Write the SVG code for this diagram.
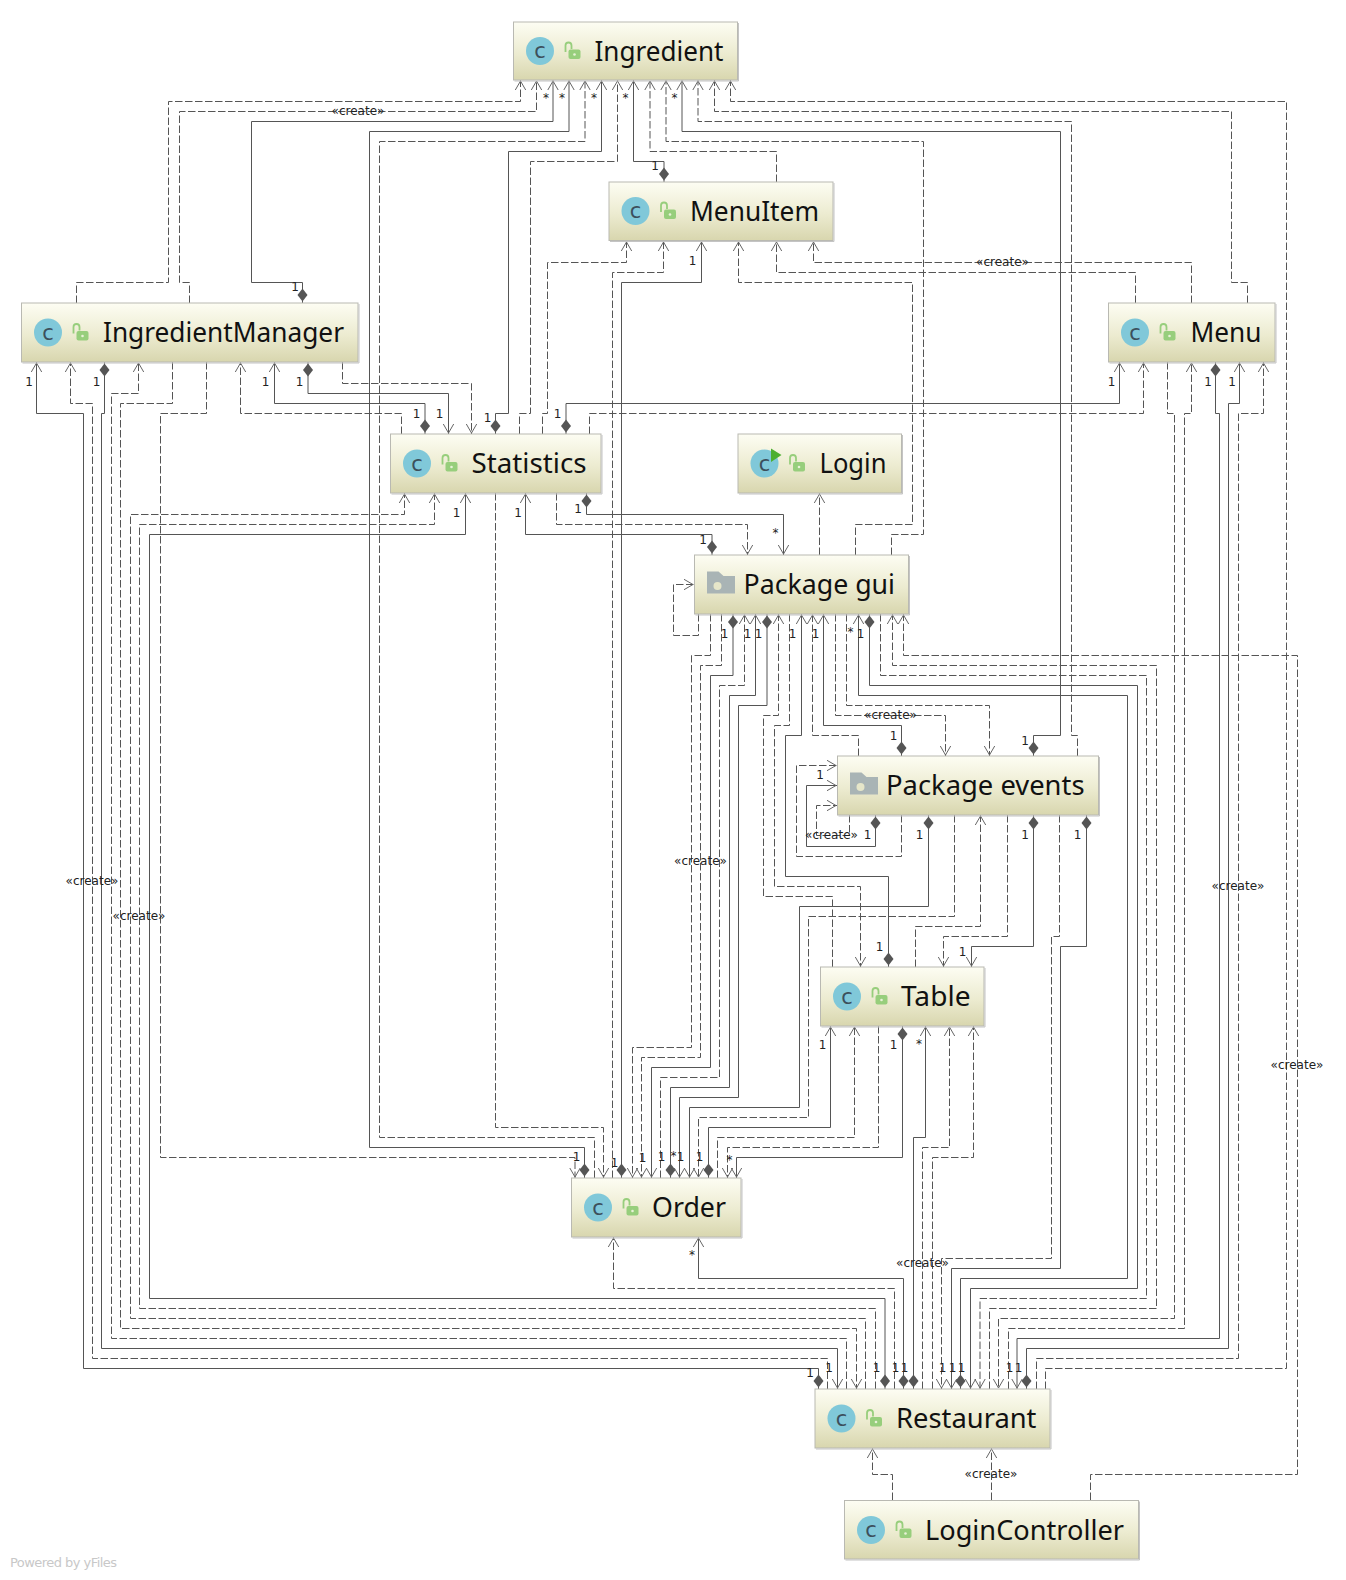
<svg xmlns="http://www.w3.org/2000/svg" xmlns:xlink="http://www.w3.org/1999/xlink" width="1346" height="1580" viewBox="0 0 1346 1580">
<style>
text{font-family:"Noto Sans","DejaVu Sans",sans-serif}
#connectors path{fill:none;stroke:#555;stroke-width:1}
#connectors path.d{stroke-dasharray:7.5 2.5}
#connectors path.ae{marker-end:url(#arrow)}
#connectors path.ds{marker-start:url(#dia)}
.l{font-size:12px;fill:#222;text-anchor:middle;font-family:"DejaVu Sans",sans-serif}
.box{fill:url(#g);stroke:#b9b9b2;stroke-width:1}
.sh{fill:none;stroke:#c4c4c4;stroke-width:1}
.t{font-size:28px;fill:#111}
.c{font-size:21px;fill:#3c4f5c;text-anchor:middle;font-family:"DejaVu Sans",sans-serif}
.pw{font-size:13px;fill:#c8c8c8;font-family:"DejaVu Sans",sans-serif}
</style>
<defs>
<linearGradient id="g" x1="0" y1="0" x2="0" y2="1"><stop offset="0" stop-color="#fdfdf3"/><stop offset=".55" stop-color="#ecebd0"/><stop offset="1" stop-color="#d8d6ae"/></linearGradient>
<marker id="arrow" markerUnits="userSpaceOnUse" markerWidth="14" markerHeight="14" refX="13" refY="7" orient="auto" viewBox="0 0 14 14"><path d="M3 1.800L12 7L3 12.200" fill="none" stroke="#666" stroke-width="1"/></marker>
<marker id="dia" markerUnits="userSpaceOnUse" markerWidth="16" markerHeight="12" refX="-0.500" refY="6" orient="auto" viewBox="0 0 16 12"><path d="M1 6L7.500 1L14 6L7.500 11Z" fill="#555"/></marker>
<g id="lock"><path d="M52 1V-5.500a3 3 0 0 1 6 0V-2" fill="none" stroke="#97ce7c" stroke-width="1.800"/><rect x="55" y="-1.500" width="12" height="9.500" rx="2" fill="#97ce7c"/><circle cx="61" cy="3.500" r="1.300" fill="#e8f2d8"/></g>
<g id="cls"><circle cx="26.500" cy="0" r="14" fill="#80c8d9"/><text class="c" x="26.500" y="7">c</text></g>
<g id="fld"><path d="M12.500-13H24L29-8.500H40.500V9H12.500Z" fill="#a9b4b5"/><circle cx="23" cy="1.500" r="4" fill="#e6e6c9"/></g>
</defs>
<g id="connectors">
<path class="d ae" d="M76.500 303V282.500H168.500V101.500H520.500V80"/>
<path class="d ae" d="M189.500 303V282.500H179.500V111.500H536.500V80"/>
<path class="s ds ae" d="M302.500 303V282.500H251.500V121.500H553V80"/>
<path class="s ds ae" d="M584.500 1178V1147.500H369.500V131.500H569V80"/>
<path class="d ae" d="M594.500 1178V1137.500H379.500V141.500H585V80"/>
<path class="s ds ae" d="M495.500 434V413.500H508.500V151.500H601.500V80"/>
<path class="d ae" d="M519.500 434V413.500H530.500V161.500H617.500V80"/>
<path class="s ds ae" d="M664 182V161.500H633.500V80"/>
<path class="d ae" d="M776.500 182V151.500H650V80"/>
<path class="d ae" d="M891.500 555V534.500H923.500V141.500H666V80"/>
<path class="s ds ae" d="M1033.500 756V735.500H1060.500V131.500H682V80"/>
<path class="d ae" d="M1077.500 756V735.500H1071.500V121.500H698V80"/>
<path class="d ae" d="M1247.500 303V282.500H1231.500V111.500H714.500V80"/>
<path class="d ae" d="M1045.500 1389V1368.500H1286.500V101.500H730.500V80"/>
<path class="d ae" d="M542.500 434V413.500H547.500V262.500H626.500V241"/>
<path class="d ae" d="M612.500 1178V272.500H663.500V241"/>
<path class="s ds ae" d="M621.500 1178V282.500H701.500V241"/>
<path class="d ae" d="M855.500 555V524.500H912.500V282.500H738.500V241"/>
<path class="d ae" d="M1135.500 303V272.500H776.500V241"/>
<path class="d ae" d="M1191.500 303V262.500H813.500V241"/>
<path class="s ds ae" d="M566 434V403.500H1119.500V362"/>
<path class="d ae" d="M589.500 434V413.500H1143.500V362"/>
<path class="d ae" d="M1167.500 362V413.500H1174.500V1318.500H998.500V1389"/>
<path class="d ae" d="M1008.500 1389V1328.500H1184.500V413.500H1191.500V362"/>
<path class="s ds ae" d="M1215.500 362V413.500H1219.500V1338.500H1017V1389"/>
<path class="s ds ae" d="M1026.500 1389V1348.500H1228.500V403.500H1239.500V362"/>
<path class="d ae" d="M1036.500 1389V1358.500H1238.500V413.500H1263.500V362"/>
<path class="s ds ae" d="M960.500 1389V1278.500H1127.500V695.500H858.500V614"/>
<path class="s ds ae" d="M869.500 614V685.500H1137.500V1288.500H970.500V1389"/>
<path class="d ae" d="M880.500 614V675.500H1146.500V1298.500H980V1389"/>
<path class="d ae" d="M989.500 1389V1308.500H1156.500V665.500H892.500V614"/>
<path class="d ae" d="M1090.500 1500V1474.500H1297.500V655.500H903.500V614"/>
<path class="s ds ae" d="M1086.500 815V946.500H1060.500V1268.500H951.500V1389"/>
<path class="d ae" d="M1059.500 815V936.500H1051.500V1258.500H941.500V1389"/>
<path class="s ds ae" d="M913.500 1389V1137.500H925.500V1026"/>
<path class="d ae" d="M922.500 1389V1147.500H949.500V1026"/>
<path class="d ae" d="M932.500 1389V1157.500H973.500V1026"/>
<path class="d ae" d="M894.500 1389V1288.500H613.500V1237"/>
<path class="s ds ae" d="M903.500 1389V1278.500H698.500V1237"/>
<path class="s ds ae" d="M818.500 1389V1368.500H83.500V413.500H36.500V362"/>
<path class="d ae" d="M827.500 1389V1358.500H92.500V403.500H70.500V362"/>
<path class="s ds ae" d="M104.500 362V413.500H101.500V1348.500H837.500V1389"/>
<path class="d ae" d="M846.500 1389V1338.500H111.500V393.500H138.500V362"/>
<path class="d ae" d="M172.500 362V403.500H120.500V1328.500H856.500V1389"/>
<path class="d ae" d="M865.500 1389V1318.500H130.500V514.500H404.500V493"/>
<path class="d ae" d="M875.500 1389V1308.500H139.500V524.500H434.500V493"/>
<path class="s ds ae" d="M885 1389V1298.500H149.500V534.500H465.500V493"/>
<path class="d ae" d="M206.500 362V413.500H160.500V1157.500H575V1178"/>
<path class="d ae" d="M401.500 434V413.500H240.500V362"/>
<path class="s ds ae" d="M425 434V403.500H274.500V362"/>
<path class="s ds ae" d="M308 362V393.500H448.500V434"/>
<path class="d ae" d="M342.500 362V383.500H471.500V434"/>
<path class="d ae" d="M495.500 493V1127.500H603.500V1178"/>
<path class="s ds ae" d="M712 555V534.500H525.500V493"/>
<path class="d ae" d="M556.500 493V524.500H747.500V555"/>
<path class="s ds ae" d="M586.500 493V514.500H783.500V555"/>
<path class="d ae" d="M819.500 555V493"/>
<path class="d ae" d="M698.500 614V635.500H673.500V584.500H694"/>
<path class="d ae" d="M710.500 614V655.500H691.500V1047.500H632.500V1178"/>
<path class="d ae" d="M721.500 614V665.500H700.500V1057.500H641.500V1178"/>
<path class="s ds ae" d="M733 614V675.500H710.500V1067.500H651.500V1178"/>
<path class="d ae" d="M660.500 1178V1077.500H719.500V685.500H744.500V614"/>
<path class="s ds ae" d="M670.500 1178V1087.500H729.500V695.500H755.500V614"/>
<path class="s ds ae" d="M767 614V705.500H738.500V1097.500H679.500V1178"/>
<path class="d ae" d="M832.500 967V896.500H763.500V715.500H778.500V614"/>
<path class="d ae" d="M789.500 614V725.500H774.500V886.500H860.500V967"/>
<path class="s ds ae" d="M888.500 967V876.500H785.500V735.500H801.500V614"/>
<path class="d ae" d="M858.500 756V735.500H812.500V614"/>
<path class="s ds ae" d="M901.500 756V725.500H823.500V614"/>
<path class="d ae" d="M835.500 614V715.500H945.500V756"/>
<path class="d ae" d="M846.500 614V705.500H989.500V756"/>
<path class="d ae" d="M849.500 815V835.500H816.500V805.500H837"/>
<path class="s ds ae" d="M875.500 815V846.500H806.500V785.500H837"/>
<path class="d ae" d="M901.500 815V856.500H796.500V765.500H837"/>
<path class="s ds ae" d="M928.500 815V906.500H799.500V1107.500H689.500V1178"/>
<path class="d ae" d="M954.500 815V916.500H808.500V1117.500H698.500V1178"/>
<path class="d ae" d="M915.500 967V926.500H980.500V815"/>
<path class="d ae" d="M1007.500 815V936.500H943.500V967"/>
<path class="s ds ae" d="M1033.500 815V946.500H971.500V967"/>
<path class="s ds ae" d="M708.500 1178V1127.500H830.500V1026"/>
<path class="d ae" d="M717.500 1178V1137.500H854.500V1026"/>
<path class="d ae" d="M878.500 1026V1147.500H727.500V1178"/>
<path class="s ds ae" d="M902.500 1026V1157.500H736.500V1178"/>
<path class="d ae" d="M892.500 1500V1474.500H872.500V1448"/>
<path class="d ae" d="M991.500 1500V1448"/>
<g id="labels">
<text class="l" x="546" y="102">*</text><text class="l" x="562" y="102">*</text><text class="l" x="594" y="102">*</text><text class="l" x="625.500" y="102">*</text><text class="l" x="674.500" y="102">*</text>
<text class="l" x="295" y="291">1</text><text class="l" x="655" y="170">1</text><text class="l" x="692.500" y="265">1</text>
<text class="l" x="358" y="115">«create»</text><text class="l" x="1002.500" y="266">«create»</text>
<text class="l" x="416.500" y="418">1</text><text class="l" x="439.500" y="418">1</text><text class="l" x="487.500" y="422">1</text><text class="l" x="557.500" y="418">1</text>
<text class="l" x="29" y="386">1</text><text class="l" x="96.500" y="386">1</text><text class="l" x="265.500" y="386">1</text><text class="l" x="299.500" y="386">1</text>
<text class="l" x="1111.500" y="386">1</text><text class="l" x="1208" y="386">1</text><text class="l" x="1232" y="386">1</text>
<text class="l" x="456.500" y="517">1</text><text class="l" x="518" y="517">1</text><text class="l" x="578" y="512.500">1</text>
<text class="l" x="775.500" y="537">*</text><text class="l" x="703" y="543.500">1</text>
<text class="l" x="724.500" y="638">1</text><text class="l" x="747.500" y="638">1</text><text class="l" x="758.500" y="638">1</text><text class="l" x="792.500" y="638">1</text><text class="l" x="815.500" y="638">1</text><text class="l" x="860.500" y="638">1</text><text class="l" x="850.500" y="636">*</text>
<text class="l" x="890.500" y="719">«create»</text><text class="l" x="893.500" y="740">1</text><text class="l" x="1025" y="745">1</text>
<text class="l" x="820" y="779">1</text><text class="l" x="831.500" y="839">«create»</text><text class="l" x="867.500" y="839">1</text><text class="l" x="919.500" y="839">1</text><text class="l" x="1025" y="839">1</text><text class="l" x="1077.500" y="839">1</text>
<text class="l" x="700.500" y="865">«create»</text><text class="l" x="92" y="885">«create»</text><text class="l" x="139" y="920">«create»</text><text class="l" x="1238" y="890">«create»</text><text class="l" x="1297" y="1069">«create»</text>
<text class="l" x="879.500" y="951">1</text><text class="l" x="962.500" y="956">1</text>
<text class="l" x="822.500" y="1049">1</text><text class="l" x="893.500" y="1049">1</text><text class="l" x="919" y="1048">*</text>
<text class="l" x="576.500" y="1161">1</text><text class="l" x="614.500" y="1167">1</text><text class="l" x="642.500" y="1161.500">1</text><text class="l" x="661.500" y="1161">1</text><text class="l" x="673.500" y="1160">*</text><text class="l" x="680.500" y="1161">1</text><text class="l" x="699.500" y="1161">1</text><text class="l" x="729.500" y="1164">*</text>
<text class="l" x="692" y="1259">*</text><text class="l" x="922.500" y="1267">«create»</text>
<text class="l" x="810" y="1377">1</text><text class="l" x="829" y="1372">1</text><text class="l" x="876.500" y="1372">1</text><text class="l" x="895.500" y="1372">1</text><text class="l" x="904.500" y="1372">1</text><text class="l" x="942.500" y="1372">1</text><text class="l" x="952.500" y="1372">1</text><text class="l" x="961.500" y="1372">1</text><text class="l" x="1009.500" y="1372">1</text><text class="l" x="1018.500" y="1372">1</text>
<text class="l" x="991" y="1478">«create»</text>
</g>
</g>
<g id="node-ingredient"><rect class="box" x="513.500" y="22" width="224" height="58"/><path class="sh" d="M738.500 23V81H514.500"/><use href="#cls" transform="translate(513.500 51)"/><use href="#lock" transform="translate(513.500 51)"/><text class="t" x="594.500" y="60.500" textLength="129" lengthAdjust="spacingAndGlyphs">Ingredient</text></g>
<g id="node-menuitem"><rect class="box" x="609" y="182" width="224" height="58.500"/><path class="sh" d="M834 183V241.500H610"/><use href="#cls" transform="translate(609 211)"/><use href="#lock" transform="translate(609 211)"/><text class="t" x="690" y="220.500" textLength="129" lengthAdjust="spacingAndGlyphs">MenuItem</text></g>
<g id="node-ingredientmanager"><rect class="box" x="21.500" y="303" width="336.500" height="59"/><path class="sh" d="M359 304V363H22.500"/><use href="#cls" transform="translate(21.500 332.500)"/><use href="#lock" transform="translate(21.500 332.500)"/><text class="t" x="103" y="342" textLength="241" lengthAdjust="spacingAndGlyphs">IngredientManager</text></g>
<g id="node-menu"><rect class="box" x="1108.500" y="303" width="166.500" height="59"/><path class="sh" d="M1276 304V363H1109.500"/><use href="#cls" transform="translate(1108.500 332.500)"/><use href="#lock" transform="translate(1108.500 332.500)"/><text class="t" x="1190.500" y="342" textLength="71" lengthAdjust="spacingAndGlyphs">Menu</text></g>
<g id="node-statistics"><rect class="box" x="390.500" y="434" width="210.500" height="59"/><path class="sh" d="M602 435V494H391.500"/><use href="#cls" transform="translate(390.500 463.500)"/><use href="#lock" transform="translate(390.500 463.500)"/><text class="t" x="471.500" y="473" textLength="115" lengthAdjust="spacingAndGlyphs">Statistics</text></g>
<g id="node-login"><rect class="box" x="738" y="434" width="163.500" height="59"/><path class="sh" d="M902.500 435V494H739"/><use href="#cls" transform="translate(738 463.500)"/><path d="M771 448.500L781.500 455L771 462Z" fill="#4caf30"/><use href="#lock" transform="translate(738 463.500)"/><text class="t" x="819.500" y="473" textLength="67" lengthAdjust="spacingAndGlyphs">Login</text></g>
<g id="node-package-gui"><rect class="box" x="694.500" y="555" width="214" height="59"/><path class="sh" d="M909.500 556V615H695.500"/><use href="#fld" transform="translate(694.500 584.500)"/><text class="t" x="743.500" y="594" textLength="151.500" lengthAdjust="spacingAndGlyphs">Package gui</text></g>
<g id="node-package-events"><rect class="box" x="837.500" y="756" width="261" height="59"/><path class="sh" d="M1099.500 757V816H838.500"/><use href="#fld" transform="translate(837.500 785.500)"/><text class="t" x="886" y="795" textLength="198.500" lengthAdjust="spacingAndGlyphs">Package events</text></g>
<g id="node-table"><rect class="box" x="820.500" y="967" width="163.500" height="59"/><path class="sh" d="M985 968V1027H821.500"/><use href="#cls" transform="translate(820.500 996.500)"/><use href="#lock" transform="translate(820.500 996.500)"/><text class="t" x="901" y="1006" textLength="69.500" lengthAdjust="spacingAndGlyphs">Table</text></g>
<g id="node-order"><rect class="box" x="571.500" y="1178" width="169.500" height="59"/><path class="sh" d="M742 1179V1238H572.500"/><use href="#cls" transform="translate(571.500 1207.500)"/><use href="#lock" transform="translate(571.500 1207.500)"/><text class="t" x="652" y="1217" textLength="74" lengthAdjust="spacingAndGlyphs">Order</text></g>
<g id="node-restaurant"><rect class="box" x="815" y="1389" width="235" height="59"/><path class="sh" d="M1051 1390V1449H816"/><use href="#cls" transform="translate(815 1418.500)"/><use href="#lock" transform="translate(815 1418.500)"/><text class="t" x="896" y="1428" textLength="140.500" lengthAdjust="spacingAndGlyphs">Restaurant</text></g>
<g id="node-logincontroller"><rect class="box" x="844.500" y="1500.500" width="294" height="58.500"/><path class="sh" d="M1139.500 1501.500V1560H845.500"/><use href="#cls" transform="translate(844.500 1530)"/><use href="#lock" transform="translate(844.500 1530)"/><text class="t" x="925" y="1539.500" textLength="199" lengthAdjust="spacingAndGlyphs">LoginController</text></g>
<text class="pw" x="10" y="1567" textLength="107">Powered by yFiles</text>
</svg>
